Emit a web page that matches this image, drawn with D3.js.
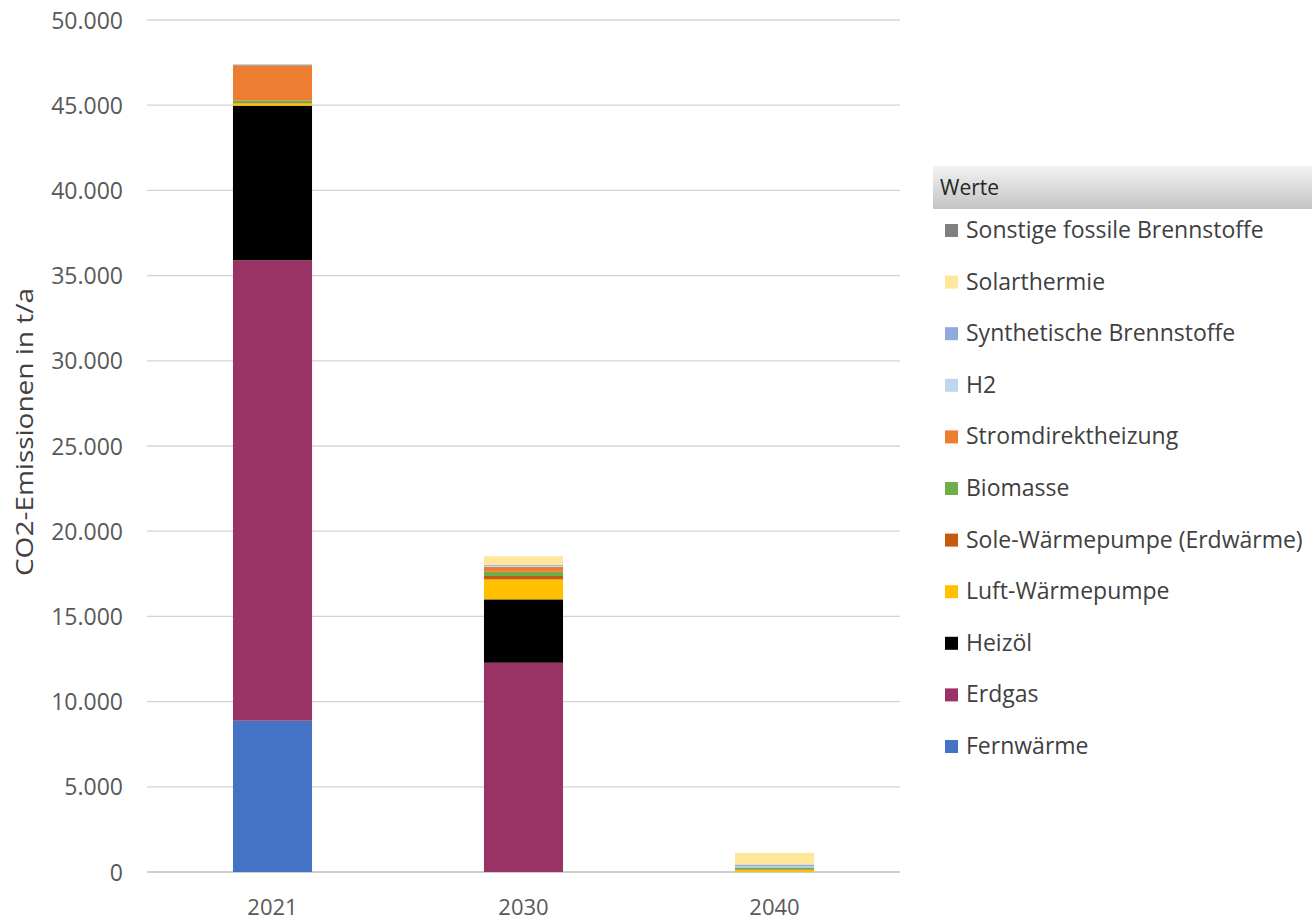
<!DOCTYPE html>
<html><head><meta charset="utf-8">
<script src="https://cdn.jsdelivr.net/npm/d3@7"></script>
<style>body{margin:0;background:#fff;} text{font-family:"Open Sans",sans-serif;}</style>
</head><body><svg id="c" width="1312" height="921"></svg>
<script>
const years = ["2021","2030","2040"];
const seriesNames = ["Fernwärme","Erdgas","Heizöl","Luft-Wärmepumpe","Sole-Wärmepumpe (Erdwärme)","Biomasse","Stromdirektheizung","H2","Synthetische Brennstoffe","Solarthermie","Sonstige fossile Brennstoffe"];
const seriesColors = ["#4472c4","#993366","#000000","#ffc000","#c55a11","#70ad47","#ed7d31","#bdd7ee","#8faadc","#ffe699","#7f7f7f"];
const fernwaerme = [8880, 0, 0];
const erdgas = [27020, 12280, 0];
const heizoel = [9070, 3720, 0];
const luftWP = [140, 1170, 110];
const soleWP = [20, 200, 40];
const biomasse = [150, 250, 120];
const strom = [2050, 290, 0];
const h2 = [0, 60, 60];
const synth = [0, 60, 110];
const solar = [0, 500, 680];
const sonstige = [50, 0, 0];
const yTicks = [0,5000,10000,15000,20000,25000,30000,35000,40000,45000,50000];
const yTitle = "CO2-Emissionen in t/a";
const legendTitle = "Werte";

const seriesVals = [fernwaerme, erdgas, heizoel, luftWP, soleWP, biomasse, strom, h2, synth, solar, sonstige];
const rows = years.map((y,i)=>{const o={year:y}; seriesNames.forEach((n,k)=>o[n]=seriesVals[k][i]); return o;});

const svg = d3.select("#c");
const x = d3.scaleBand().domain(years).range([147,900]).paddingInner(0.685).paddingOuter(0.3425);
const y = d3.scaleLinear().domain([0,50000]).range([872,20]);
const fmt = d => d3.format(",")(d).replace(/,/g,".");

// gridlines
svg.append("g").selectAll("line").data(yTicks).join("line")
  .attr("x1",147).attr("x2",900).attr("y1",d=>y(d)).attr("y2",d=>y(d))
  .attr("stroke",d=>d===0?"#bfbfbf":"#d4d4d4").attr("stroke-width",d=>d===0?1.5:1.3);

const yAxis = d3.axisLeft(y).tickValues(yTicks).tickFormat(fmt).tickSize(0).tickPadding(0);
const ya = svg.append("g").attr("transform","translate(123,0)").call(yAxis);
ya.select(".domain").remove();
ya.selectAll("text").attr("fill","#595959").style("font-size","23px").style("font-family","'Open Sans',sans-serif").attr("dy","0.35em");

const xAxis = d3.axisBottom(x).tickSize(0).tickPadding(0);
const xa = svg.append("g").attr("transform","translate(0,899)").call(xAxis);
xa.select(".domain").remove();
xa.selectAll("text").attr("fill","#595959").style("font-size","22px").style("font-family","'Open Sans',sans-serif").attr("dy","0.71em");

const stack = d3.stack().keys(seriesNames)(rows);
svg.append("g").selectAll("g").data(stack).join("g")
  .attr("fill",(d,i)=>seriesColors[i])
  .selectAll("rect").data(d=>d).join("rect")
  .attr("x",d=>x(d.data.year)).attr("width",x.bandwidth())
  .attr("y",d=>y(d[1])).attr("height",d=>Math.max(0,y(d[0])-y(d[1])));

svg.append("text").attr("transform","translate(33,432) rotate(-90)").attr("text-anchor","middle")
  .attr("fill","#404040").style("font-size","24px").attr("textLength",288).attr("lengthAdjust","spacingAndGlyphs").text(yTitle);

// legend
const defs = svg.append("defs");
const gr = defs.append("linearGradient").attr("id","lg").attr("x1",0).attr("y1",0).attr("x2",0).attr("y2",1);
gr.append("stop").attr("offset","0%").attr("stop-color","#f2f2f2");
gr.append("stop").attr("offset","100%").attr("stop-color","#c4c4c4");
svg.append("rect").attr("x",933).attr("y",166).attr("width",379).attr("height",43).attr("fill","url(#lg)");
svg.append("text").attr("x",940).attr("y",195).attr("fill","#262626").style("font-size","21px").text(legendTitle);

const legendOrder = seriesNames.map((n,i)=>i).reverse();
const lg = svg.append("g").selectAll("g").data(legendOrder).join("g")
  .attr("transform",(d,i)=>`translate(0,${230 + i*51.6})`);
lg.append("rect").attr("x",945).attr("y",-6).attr("width",13).attr("height",13).attr("fill",d=>seriesColors[d]);
lg.append("text").attr("x",966).attr("y",0).attr("dy","0.35em").attr("fill","#404040").style("font-size","23px").text(d=>seriesNames[d]);
</script></body></html>
